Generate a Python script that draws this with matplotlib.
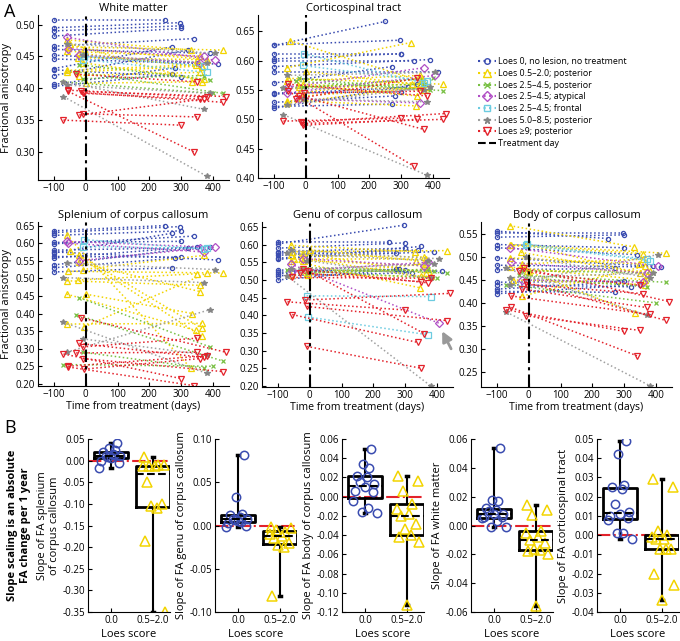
import matplotlib.pyplot as plt
from matplotlib.lines import Line2D
from matplotlib.ticker import FormatStrFormatter

plt.rcParams['font.family'] = ['Open Sans', 'DejaVu Sans']

# ---------- groups ----------
group_labels = ['Loes 0, no lesion, no treatment', 'Loes 0.5–2.0; posterior',
                'Loes 2.5–4.5, posterior', 'Loes 2.5–4.5; atypical',
                'Loes 2.5–4.5; frontal', 'Loes 5.0–8.5; posterior', 'Loes ≥9; posterior']
group_keys = ['loes0', 'loes05', 'post', 'atyp', 'front', 'l58', 'l9']

# days from treatment: [baseline, follow-up] for every subject of each group
days_loes0 = [[-100, -100, -100, -100, -100, -100, -100, -100, -100, -100, -100, -100, -100],
              [250, 295, 300, 300, 340, 390, 415, 270, 300, 320, 280, 270, 350]]
days_loes05 = [[-60, -55, -60, -25, -60, -60, 0, -50, -20, -10, -5, -20],
               [330, 430, 360, 350, 345, 365, 335, 365, 365, 370, 380, 360]]
days_post = [[-20, -30, -10, -70], [390, 430, 370, 400]]
days_atyp = [[-60, -55, -20], [405, 370, 360]]
days_front = [[-10, -5], [380, 370]]
days_l58 = [[-70, -70, -60, -10, -60], [380, 370, 405, 380, 390]]
days_l9 = [[-70, -55, -10, -15, -10, -20, -55, -5, -30],
           [300, 340, 350, 440, 430, 370, 380, 360, 350]]

# ---------- fractional anisotropy [baseline, follow-up] ----------
# White matter
wm_loes0 = [[0.507, 0.495, 0.490, 0.482, 0.466, 0.461, 0.446, 0.431, 0.429, 0.420, 0.406, 0.403, 0.452],
            [0.507, 0.503, 0.498, 0.494, 0.478, 0.455, 0.438, 0.465, 0.418, 0.460, 0.432, 0.422, 0.440]]
wm_loes05 = [[0.476, 0.465, 0.458, 0.448, 0.428, 0.425, 0.408, 0.470, 0.455, 0.440, 0.462, 0.420],
             [0.460, 0.460, 0.450, 0.445, 0.437, 0.435, 0.410, 0.410, 0.433, 0.414, 0.445, 0.425]]
wm_post = [[0.437, 0.426, 0.415, 0.410], [0.413, 0.392, 0.420, 0.392]]
wm_atyp = [[0.480, 0.462, 0.452], [0.444, 0.450, 0.440]]
wm_front = [[0.445, 0.450], [0.425, 0.435]]
wm_l58 = [[0.387, 0.410, 0.470, 0.452, 0.405], [0.262, 0.367, 0.455, 0.440, 0.392]]
wm_l9 = [[0.350, 0.395, 0.360, 0.395, 0.393, 0.358, 0.397, 0.392, 0.422],
         [0.342, 0.300, 0.355, 0.387, 0.378, 0.383, 0.386, 0.383, 0.410]]

# Corticospinal tract
cst_loes0 = [[0.626, 0.627, 0.612, 0.603, 0.600, 0.590, 0.580, 0.562, 0.545, 0.543, 0.529, 0.522, 0.519],
             [0.667, 0.635, 0.612, 0.612, 0.600, 0.602, 0.580, 0.590, 0.547, 0.555, 0.540, 0.526, 0.560]]
cst_loes05 = [[0.588, 0.570, 0.565, 0.558, 0.532, 0.528, 0.582, 0.634, 0.545, 0.560, 0.540, 0.555],
              [0.631, 0.560, 0.575, 0.540, 0.523, 0.555, 0.560, 0.565, 0.570, 0.550, 0.555, 0.560]]
cst_post = [[0.570, 0.565, 0.555, 0.553], [0.550, 0.549, 0.560, 0.570]]
cst_atyp = [[0.545, 0.555, 0.535], [0.575, 0.588, 0.528]]
cst_front = [[0.592, 0.612], [0.565, 0.562]]
cst_l58 = [[0.508, 0.553, 0.575, 0.535, 0.525], [0.405, 0.550, 0.580, 0.530, 0.555]]
cst_l9 = [[0.497, 0.548, 0.490, 0.495, 0.493, 0.540, 0.560, 0.545, 0.535],
          [0.502, 0.420, 0.500, 0.510, 0.500, 0.483, 0.540, 0.548, 0.570]]

# Splenium of corpus callosum
spl_loes0 = [[0.635, 0.630, 0.622, 0.602, 0.598, 0.580, 0.575, 0.572, 0.562, 0.538, 0.530, 0.518, 0.558],
             [0.650, 0.647, 0.635, 0.605, 0.620, 0.588, 0.552, 0.628, 0.560, 0.585, 0.557, 0.530, 0.590]]
spl_loes05 = [[0.622, 0.520, 0.493, 0.495, 0.455, 0.370, 0.455, 0.578, 0.565, 0.525, 0.362, 0.545],
              [0.245, 0.515, 0.480, 0.513, 0.352, 0.372, 0.400, 0.335, 0.358, 0.565, 0.515, 0.462]]
spl_post = [[0.445, 0.397, 0.290, 0.255], [0.305, 0.265, 0.245, 0.250]]
spl_atyp = [[0.605, 0.600, 0.550], [0.588, 0.575, 0.585]]
spl_front = [[0.590, 0.610], [0.585, 0.583]]
spl_l58 = [[0.375, 0.502, 0.543, 0.328, 0.290], [0.230, 0.488, 0.525, 0.282, 0.411]]
spl_l9 = [[0.285, 0.248, 0.305, 0.388, 0.272, 0.315, 0.250, 0.242, 0.288],
          [0.215, 0.195, 0.330, 0.290, 0.235, 0.275, 0.280, 0.272, 0.290]]

# Genu of corpus callosum
genu_loes0 = [[0.608, 0.602, 0.590, 0.580, 0.570, 0.562, 0.528, 0.522, 0.518, 0.512, 0.500, 0.575, 0.558],
              [0.607, 0.655, 0.605, 0.590, 0.585, 0.580, 0.525, 0.530, 0.528, 0.520, 0.530, 0.575, 0.595]]
genu_loes05 = [[0.598, 0.580, 0.570, 0.562, 0.555, 0.513, 0.585, 0.560, 0.575, 0.520, 0.515, 0.555],
               [0.580, 0.583, 0.565, 0.510, 0.478, 0.545, 0.555, 0.560, 0.520, 0.530, 0.510, 0.540]]
genu_post = [[0.535, 0.530, 0.520, 0.528], [0.525, 0.520, 0.530, 0.505]]
genu_atyp = [[0.545, 0.525, 0.560], [0.378, 0.550, 0.540]]
genu_front = [[0.455, 0.395], [0.453, 0.345]]
genu_l58 = [[0.510, 0.575, 0.585, 0.555, 0.530], [0.200, 0.555, 0.560, 0.505, 0.545]]
genu_l9 = [[0.438, 0.402, 0.312, 0.443, 0.425, 0.530, 0.507, 0.525, 0.520],
           [0.415, 0.323, 0.250, 0.462, 0.385, 0.492, 0.505, 0.348, 0.495]]

# Body of corpus callosum
body_loes0 = [[0.556, 0.552, 0.543, 0.527, 0.520, 0.498, 0.482, 0.472, 0.445, 0.440, 0.430, 0.425, 0.420],
              [0.540, 0.552, 0.548, 0.520, 0.505, 0.480, 0.478, 0.475, 0.447, 0.435, 0.445, 0.423, 0.440]]
body_loes05 = [[0.568, 0.527, 0.525, 0.510, 0.498, 0.478, 0.468, 0.450, 0.415, 0.528, 0.470, 0.485],
               [0.522, 0.508, 0.507, 0.465, 0.485, 0.450, 0.378, 0.440, 0.480, 0.460, 0.470, 0.495]]
body_post = [[0.470, 0.460, 0.455, 0.440], [0.465, 0.445, 0.435, 0.400]]
body_atyp = [[0.520, 0.488, 0.450], [0.480, 0.465, 0.445]]
body_front = [[0.525, 0.528], [0.492, 0.495]]
body_l58 = [[0.380, 0.475, 0.440, 0.500, 0.455], [0.220, 0.373, 0.505, 0.455, 0.465]]
body_l9 = [[0.385, 0.390, 0.372, 0.475, 0.445, 0.430, 0.415, 0.440, 0.470],
           [0.338, 0.285, 0.340, 0.403, 0.362, 0.390, 0.375, 0.420, 0.438]]

# ---------- slopes (FA change per year) ----------
loes_ticks = ['0.0', '0.5–2.0']
spl_slope0 = [0.040, 0.030, 0.025, 0.020, 0.015, 0.010, 0.010, 0.005, 0.000, -0.005, -0.018, 0.012, 0.008]
spl_slope05 = [0.008, -0.010, -0.012, -0.010, -0.012, -0.012, -0.050, -0.100, -0.105, -0.110, -0.185, -0.350]
genu_slope0 = [0.082, 0.033, 0.013, 0.012, 0.010, 0.008, 0.007, 0.005, 0.003, 0.000, -0.002, 0.004, 0.006]
genu_slope05 = [-0.002, -0.003, -0.005, -0.008, -0.010, -0.012, -0.015, -0.020, -0.022, -0.025, -0.081]
body_slope0 = [0.050, 0.034, 0.030, 0.022, 0.020, 0.015, 0.013, 0.010, 0.006, 0.005, -0.004, -0.012, -0.016, -0.017]
body_slope05 = [0.021, 0.016, 0.006, -0.008, -0.013, -0.018, -0.020, -0.028, -0.034, -0.040, -0.042, -0.047, -0.113]
wm_slope0 = [0.054, 0.018, 0.017, 0.012, 0.011, 0.010, 0.008, 0.008, 0.006, 0.006, 0.005, 0.003, -0.001, -0.001]
wm_slope05 = [0.014, 0.011, 0.007, -0.004, -0.005, -0.008, -0.010, -0.012, -0.016, -0.017, -0.018, -0.020, -0.056]
cst_slope0 = [0.049, 0.042, 0.026, 0.025, 0.024, 0.016, 0.012, 0.011, 0.010, 0.009, 0.008, 0.001, 0.001, -0.002]
cst_slope05 = [0.029, 0.025, 0.002, 0.000, -0.001, -0.002, -0.002, -0.007, -0.007, -0.007, -0.020, -0.026, -0.034]

# horizontal spread of the dots around each box
jit0 = [0.15, -0.05, 0.10, -0.20, 0.05, -0.12, 0.22, 0.00, -0.25, 0.18, -0.30, 0.08, -0.08, 0.28]
jit05 = [-0.22, 0.25, -0.10, 0.12, -0.25, 0.05, -0.15, 0.20, -0.05, 0.10, -0.20, 0.28, 0.00]

# ---------- styles ----------
styles = {
    'loes0': dict(color='#3a4cb0', marker='o', ms=3, mfc='none', lc='#3a4cb0'),
    'loes05': dict(color='#f2d400', marker='^', ms=5, mfc='none', lc='#f2d400'),
    'post': dict(color='#78c043', marker='x', ms=3, mfc='none', lc='#78c043'),
    'atyp': dict(color='#b14fc5', marker='D', ms=4, mfc='none', lc='#b14fc5'),
    'front': dict(color='#6ccbe0', marker='s', ms=4, mfc='none', lc='#6ccbe0'),
    'l58': dict(color='#858585', marker='*', ms=4, mfc='#858585', lc='#a0a0a0'),
    'l9': dict(color='#e3222b', marker='v', ms=5, mfc='none', lc='#e3222b'),
}
days = {'loes0': days_loes0, 'loes05': days_loes05, 'post': days_post, 'atyp': days_atyp,
        'front': days_front, 'l58': days_l58, 'l9': days_l9}

W, H = 680, 641
fig = plt.figure(figsize=(W / 100, H / 100), dpi=100)
TICK = 7
LAB = 8


def px(l, t, r, b):
    return [l / W, 1 - b / H, (r - l) / W, (b - t) / H]


def fa_panel(rect, title, data, ylim, yticks, ylabel=False, xlabel=False):
    ax = fig.add_axes(px(*rect))
    for key, vals in zip(group_keys, data):
        st = styles[key]
        d = days[key]
        for x0, x1, y0, y1 in zip(d[0], d[1], vals[0], vals[1]):
            ax.plot([x0, x1], [y0, y1], ls=':', lw=1.1, color=st['lc'],
                    marker=st['marker'], ms=st['ms'], mfc=st['mfc'], mec=st['color'], mew=0.9)
    ax.axvline(0, color='k', ls=(0, (6, 2, 1.5, 2)), lw=1.5, zorder=5)
    ax.set_xlim(-150, 450)
    ax.set_ylim(*ylim)
    ax.set_xticks([-100, 0, 100, 200, 300, 400])
    ax.set_yticks(yticks)
    ax.yaxis.set_major_formatter(FormatStrFormatter('%.2f'))
    ax.set_title(title, fontsize=LAB, pad=3)
    for s in ['top', 'right']:
        ax.spines[s].set_visible(False)
    ax.tick_params(labelsize=TICK, direction='in', length=3, pad=2)
    if ylabel:
        ax.set_ylabel('Fractional anisotropy', fontsize=LAB, labelpad=3)
    if xlabel:
        ax.set_xlabel('Time from treatment (days)', fontsize=7.6, labelpad=1)
    return ax


fa_panel((38, 15, 229, 180), 'White matter',
         [wm_loes0, wm_loes05, wm_post, wm_atyp, wm_front, wm_l58, wm_l9],
         (0.256, 0.515), [0.30, 0.35, 0.40, 0.45, 0.50], ylabel=True)
fa_panel((258, 15, 449, 178), 'Corticospinal tract',
         [cst_loes0, cst_loes05, cst_post, cst_atyp, cst_front, cst_l58, cst_l9],
         (0.400, 0.678), [0.40, 0.45, 0.50, 0.55, 0.60, 0.65])
fa_panel((38, 222, 229, 386), 'Splenium of corpus callosum',
         [spl_loes0, spl_loes05, spl_post, spl_atyp, spl_front, spl_l58, spl_l9],
         (0.194, 0.660), [0.20, 0.25, 0.30, 0.35, 0.40, 0.45, 0.50, 0.55, 0.60, 0.65],
         ylabel=True, xlabel=True)
ax_genu = fa_panel((262, 222, 453, 387), 'Genu of corpus callosum',
                   [genu_loes0, genu_loes05, genu_post, genu_atyp, genu_front, genu_l58, genu_l9],
                   (0.197, 0.664), [0.20, 0.25, 0.30, 0.35, 0.40, 0.45, 0.50, 0.55, 0.60, 0.65],
                   xlabel=True)
fa_panel((481, 222, 672, 387), 'Body of corpus callosum',
         [body_loes0, body_loes05, body_post, body_atyp, body_front, body_l58, body_l9],
         (0.217, 0.576), [0.25, 0.30, 0.35, 0.40, 0.45, 0.50, 0.55], xlabel=True)

ax_genu.annotate('', xy=(412, 0.362), xytext=(448, 0.298), annotation_clip=False,
                 arrowprops=dict(arrowstyle='-|>,head_width=0.3,head_length=0.6',
                                 color='#999999', lw=2.0))

# legend
handles = []
for key, lab in zip(group_keys, group_labels):
    st = styles[key]
    handles.append(Line2D([], [], ls=':', lw=1.5, color=st['lc'], marker=st['marker'],
                          ms=st['ms'] + 1, mfc=st['mfc'], mec=st['color'], label=lab))
handles.append(Line2D([], [], ls='--', lw=1.5, color='k', label='Treatment day'))
fig.legend(handles=handles, loc='upper left', bbox_to_anchor=(474 / W, 1 - 53 / H),
           frameon=False, fontsize=6.4, handlelength=2.0, handletextpad=0.15,
           labelspacing=0.3, borderpad=0)


# ---------- panel B ----------
def slope_panel(left, ylabel, v0, v05, ylim, yticks):
    ax = fig.add_axes(px(left, 439, left + 82, 612))
    ax.boxplot([v0, v05], positions=[1, 2], widths=0.8, whis=(0, 100), showfliers=False,
               boxprops=dict(lw=2, color='k'), whiskerprops=dict(lw=1.5, color='k'),
               capprops=dict(lw=2.5, color='k'), capwidths=0.06,
               medianprops=dict(lw=1.5, color='k', ls='--'))
    ax.axhline(0, color='#e3222b', ls='-.', lw=1.5, zorder=1)
    ax.plot([1 + j for j in jit0[:len(v0)]], v0, ls='none', marker='o', ms=6,
            mfc='none', mec='#3a4cb0', mew=1.1)
    ax.plot([2 + j for j in jit05[:len(v05)]], v05, ls='none', marker='^', ms=6.5,
            mfc='none', mec='#f2d400', mew=1.1)
    ax.set_xlim(0.45, 2.4)
    ax.set_ylim(*ylim)
    ax.set_yticks(yticks)
    ax.yaxis.set_major_formatter(FormatStrFormatter('%.2f'))
    ax.set_xticks([1, 2])
    ax.set_xticklabels(loes_ticks)
    ax.set_xlabel('Loes score', fontsize=LAB, labelpad=2)
    ax.set_ylabel(ylabel, fontsize=LAB, labelpad=2, linespacing=1.1)
    for s in ['top', 'right']:
        ax.spines[s].set_visible(False)
    ax.tick_params(labelsize=TICK, direction='in', length=3, pad=2)
    return ax


slope_panel(88, 'Slope of FA splenium\nof corpus callosum', spl_slope0, spl_slope05,
            (-0.35, 0.05), [-0.35, -0.30, -0.25, -0.20, -0.15, -0.10, -0.05, 0.00, 0.05])
slope_panel(215, 'Slope of FA genu of corpus callosum', genu_slope0, genu_slope05,
            (-0.10, 0.10), [-0.10, -0.05, 0.00, 0.05, 0.10])
slope_panel(342, 'Slope of FA body of corpus callosum', body_slope0, body_slope05,
            (-0.12, 0.06), [-0.12, -0.10, -0.08, -0.06, -0.04, -0.02, 0.00, 0.02, 0.04, 0.06])
slope_panel(471, 'Slope of FA white matter', wm_slope0, wm_slope05,
            (-0.06, 0.06), [-0.06, -0.04, -0.02, 0.00, 0.02, 0.04, 0.06])
slope_panel(597, 'Slope of FA corticospinal tract', cst_slope0, cst_slope05,
            (-0.04, 0.05), [-0.04, -0.03, -0.02, -0.01, 0.00, 0.01, 0.02, 0.03, 0.04, 0.05])

fig.text(4 / W, 1 - 12 / H, 'A', fontsize=13, va='center')
fig.text(4 / W, 1 - 428 / H, 'B', fontsize=13, va='center')
fig.text(19 / W, 1 - 525 / H, 'Slope scaling is an absolute\nFA change per 1 year',
         rotation=90, fontsize=LAB, fontweight='bold', ha='center', va='center',
         multialignment='center', linespacing=1.15)

fig.savefig('out.png', dpi=100)
